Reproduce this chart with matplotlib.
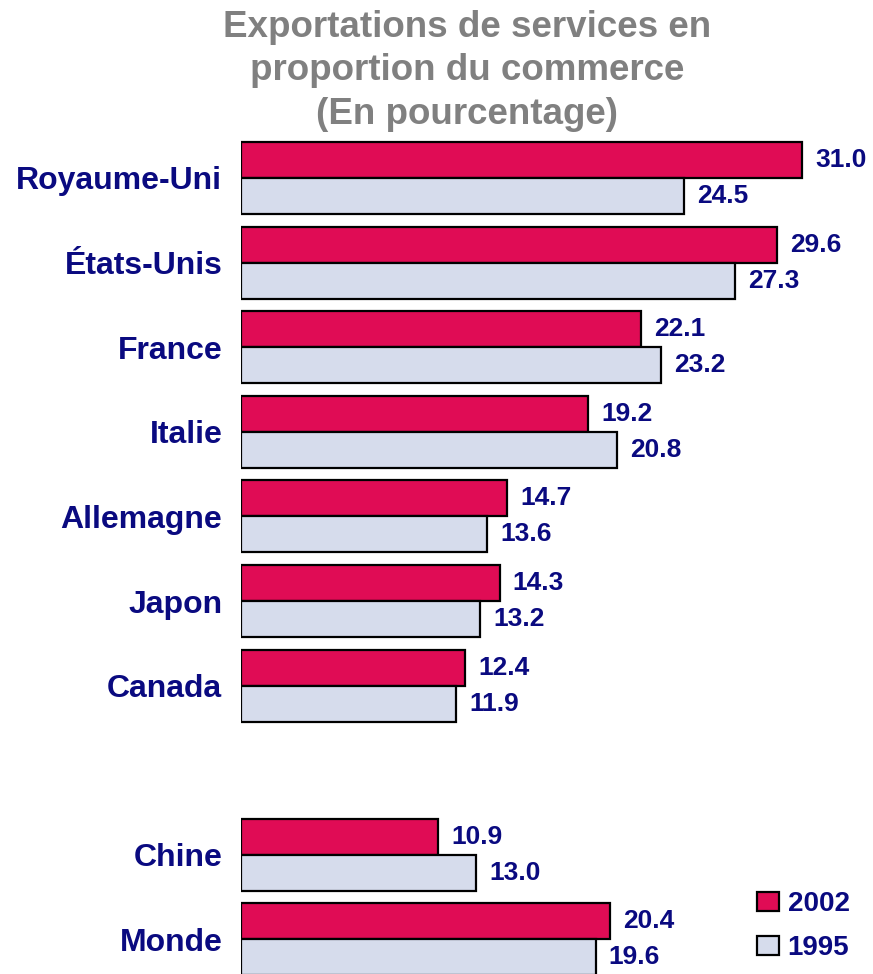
import matplotlib.pyplot as plt
import numpy as np
from matplotlib.patches import Patch

countries = ["Royaume-Uni", "États-Unis", "France", "Italie", "Allemagne",
             "Japon", "Canada", "Chine", "Monde"]
slots = [0, 1, 2, 3, 4, 5, 6, 8, 9]  # empty slot between Canada and Chine
v2002 = [31.0, 29.6, 22.1, 19.2, 14.7, 14.3, 12.4, 10.9, 20.4]
v1995 = [24.5, 27.3, 23.2, 20.8, 13.6, 13.2, 11.9, 13.0, 19.6]

red = "#E00C55"
grey = "#D6DCEC"
navy = "#0A0A80"
plt.rcParams["font.family"] = ["Liberation Sans", "DejaVu Sans"]

W, H = 873, 974
fig = plt.figure(figsize=(W / 100, H / 100), dpi=100)
ax = fig.add_axes([241 / W, 0, 1 - 241 / W, 1])

px_unit = 561 / 31.0      # pixels per percent
group = 84.6              # pixels between groups
first = 178               # pixel y of first group centre
h = 36 / group

ax.set_xlim(0, (W - 241) / px_unit)
ax.set_ylim((H - first) / group, -first / group)

y = np.array(slots, dtype=float)
ax.barh(y - h / 2, v2002, height=h, color=red, edgecolor="black", linewidth=1.6)
ax.barh(y + h / 2, v1995, height=h, color=grey, edgecolor="black", linewidth=1.6)

off = 13 / px_unit
for yi, a, b in zip(y, v2002, v1995):
    ax.text(a + off, yi - h / 2, f"{a:.1f}", va="center", ha="left",
            fontsize=19, fontweight="bold", color=navy)
    ax.text(b + off, yi + h / 2, f"{b:.1f}", va="center", ha="left",
            fontsize=19, fontweight="bold", color=navy)

ax.set_yticks(y)
ax.set_yticklabels(countries, fontsize=23, fontweight="bold", color=navy)
ax.tick_params(axis="y", length=0, pad=13.5)
ax.set_xticks([])
for s in ax.spines.values():
    s.set_visible(False)

fig.text(467 / W, 1 - 71 / H,
         "Exportations de services en\nproportion du commerce\n(En pourcentage)",
         ha="center", va="center", fontsize=26.5, fontweight="bold",
         color="#808080", linespacing=1.3)

handles = [Patch(facecolor=red, edgecolor="black", linewidth=1.6, label="2002"),
           Patch(facecolor=grey, edgecolor="black", linewidth=1.6, label="1995")]
leg = fig.legend(handles=handles, loc="upper left",
                 bbox_to_anchor=(757 / W, 1 - 891 / H), frameon=False,
                 borderpad=0, borderaxespad=0,
                 handlelength=0.8, handleheight=0.68, handletextpad=0.3,
                 labelspacing=0.65, prop={"size": 20, "weight": "bold"})
for t in leg.get_texts():
    t.set_color(navy)

fig.savefig("out.png", dpi=100)
